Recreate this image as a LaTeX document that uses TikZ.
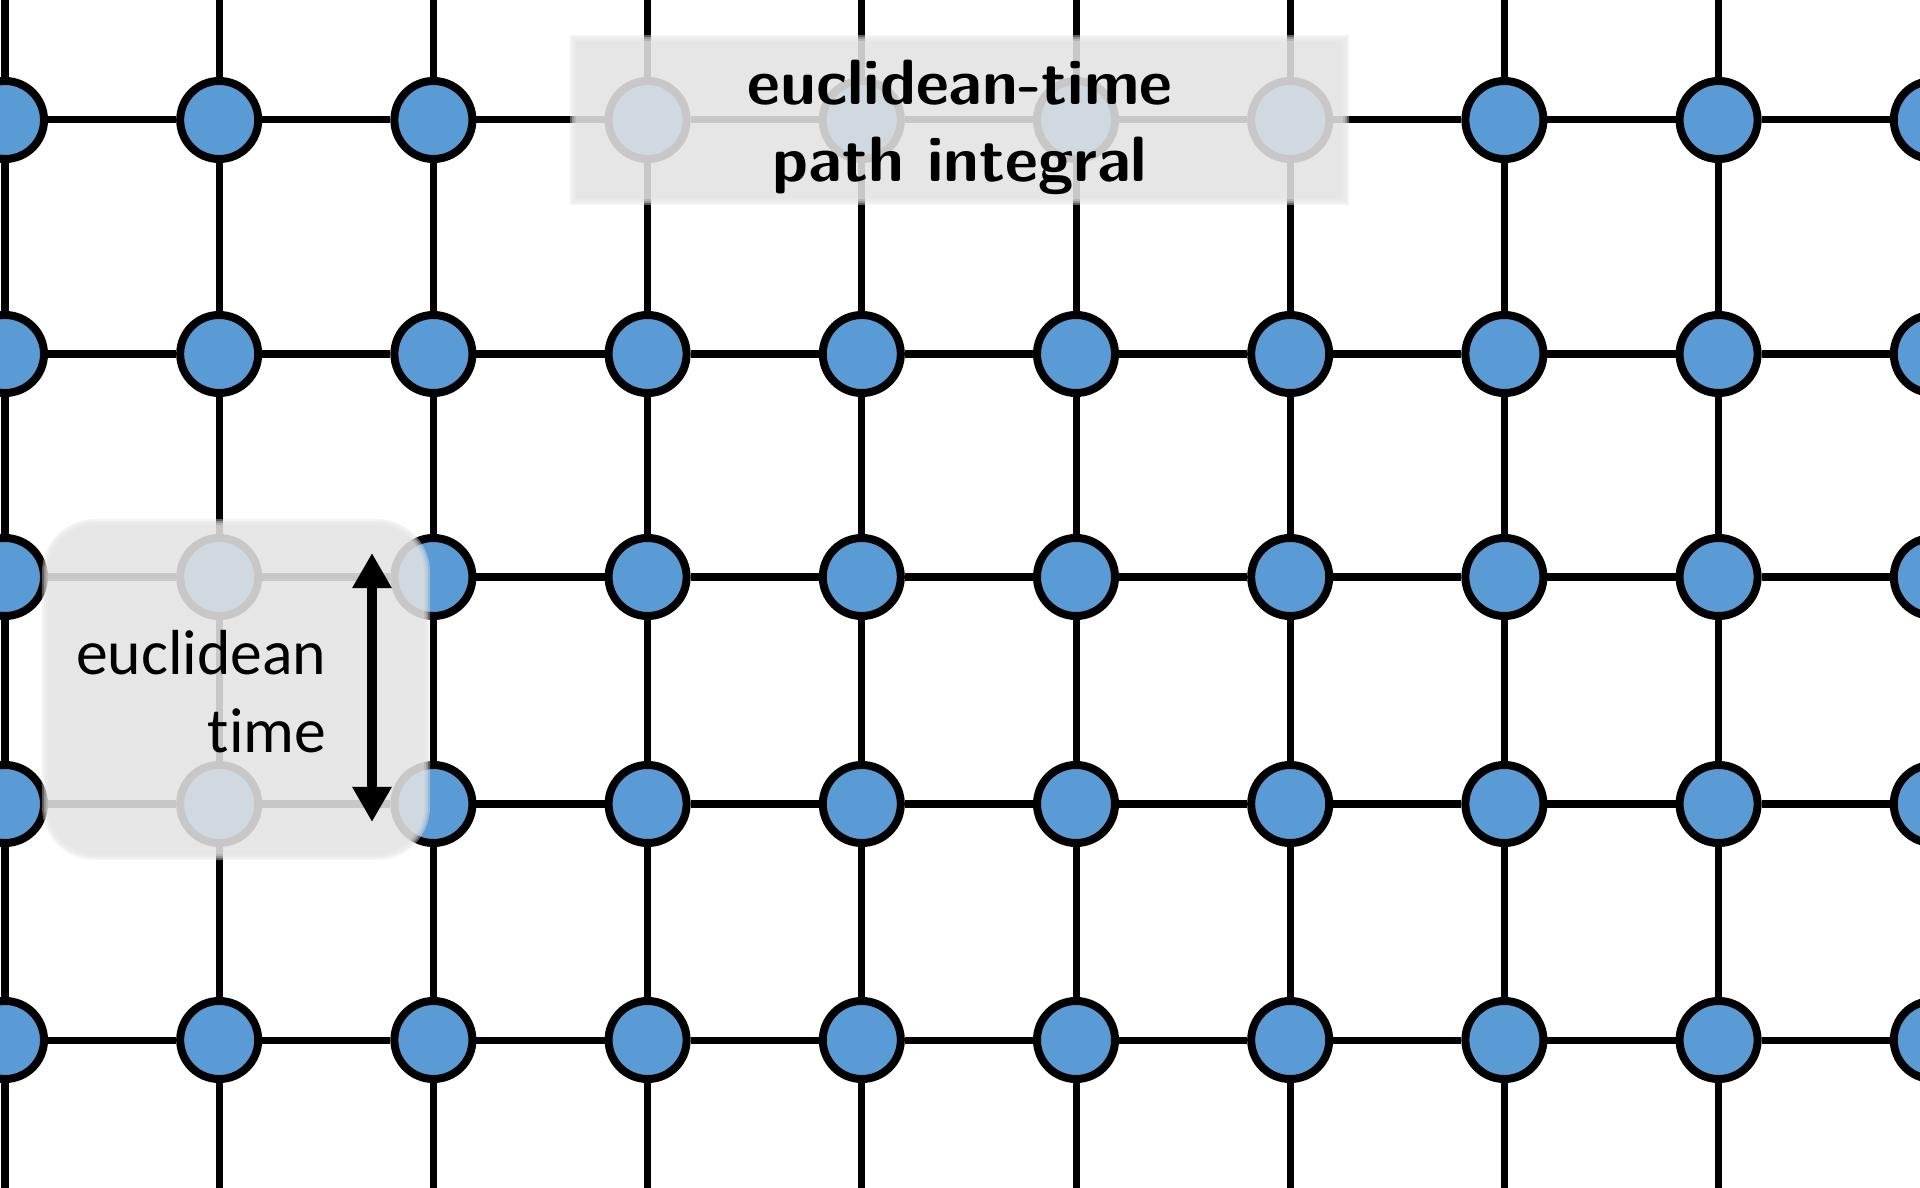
\documentclass[tikz,border=0pt]{standalone}
\usepackage{fontspec}
\newfontfamily\calib[Ligatures=NoCommon]{Carlito}
\usetikzlibrary{arrows.meta,backgrounds}
\definecolor{nodeblue}{HTML}{5B9BD5}
\definecolor{veil}{RGB}{227,227,227}
\begin{document}
\begin{tikzpicture}[x=0.01cm,y=-0.01cm,
  site/.style={circle,draw=black,fill=nodeblue,line width=0.08cm,minimum size=0.78cm,inner sep=0pt},
  bond/.style={line width=0.07cm,draw=black},
  veillayer/.style={fill=veil,fill opacity=0.41,draw=none},
  timearrow/.style={line width=0.1cm,{Triangle[length=0.35cm,width=0.37cm]}-{Triangle[length=0.35cm,width=0.37cm]}},
  titletext/.style={font=\sffamily\bfseries\fontsize{18.2}{21.9}\selectfont,align=center,text=black,inner sep=0pt},
  sidetext/.style={font=\calib\fontsize{18.1}{21.9}\selectfont,align=right,text=black,inner sep=0pt}]
\useasboundingbox (0,0) rectangle (1920,1188);
\clip (0,0) rectangle (1920,1188);
% lattice sites
\foreach \yy [count=\j] in {120,354,577,804,1040}{
  \foreach \i in {0,...,9}{
    \node[site] (n-\i-\j) at ({5+214.2*\i},\yy) {};
  }
}
% free ends of vertical bonds
\foreach \i in {0,...,9}{
  \coordinate (t-\i) at ({5+214.2*\i},0);
  \coordinate (b-\i) at ({5+214.2*\i},1188);
}
\begin{scope}[on background layer]
  \foreach \i in {0,...,9}{
    \draw[bond] (t-\i) -- (n-\i-1);
    \draw[bond] (n-\i-5) -- (b-\i);
    \foreach \j [evaluate=\j as \k using int(\j+1)] in {1,...,4}{
      \draw[bond] (n-\i-\j) -- (n-\i-\k);
    }
  }
  \foreach \j in {1,...,5}{
    \foreach \i [evaluate=\i as \k using int(\i+1)] in {0,...,8}{
      \draw[bond] (n-\i-\j) -- (n-\k-\j);
    }
  }
\end{scope}
% translucent veils with soft edges
\foreach \d in {3,1,-1,-3}{
  \fill[veillayer] ({573-\d},{38-\d}) rectangle ({1346+\d},{202+\d});
  \fill[veillayer,rounded corners={0.5cm+0.01cm*\d}] ({45-\d},{522-\d}) rectangle ({427+\d},{857+\d});
}
% labels
\node[titletext,anchor=base] (title) at (960,182) {euclidean-time\\path integral};
\node[sidetext,anchor=base east] (side) at (327,752) {euclidean\\time};
\coordinate (atop) at (372,553);
\coordinate (abot) at (372,822);
\draw[timearrow] (atop) -- (abot);
\end{tikzpicture}
\end{document}
